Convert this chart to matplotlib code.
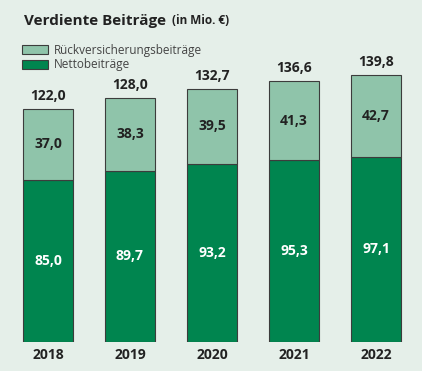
import matplotlib
matplotlib.use('Agg')
import matplotlib.pyplot as plt
from matplotlib.patches import Patch

# Daten
years = ['2018', '2019', '2020', '2021', '2022']
netto = [85.0, 89.7, 93.2, 95.3, 97.1]
rueck = [37.0, 38.3, 39.5, 41.3, 42.7]
totals = [122.0, 128.0, 132.7, 136.6, 139.8]

bg = '#e5efe9'
dark = '#00854f'
light = '#8fc4aa'
edge = '#3c3c3c'
txt = '#222222'

plt.rcParams['font.family'] = ['Open Sans', 'DejaVu Sans']

def fmt(v):
    return f'{v:.1f}'.replace('.', ',')

fig = plt.figure(figsize=(4.22, 3.71), dpi=100, facecolor=bg)
ax = fig.add_axes([7 / 422, 29 / 371, 410 / 422, 322 / 371])
ax.set_facecolor(bg)

x = list(range(len(years)))
w = 0.61
ax.bar(x, netto, width=w, color=dark, edgecolor=edge, linewidth=0.8)
ax.bar(x, rueck, width=w, bottom=netto, color=light, edgecolor=edge, linewidth=0.8)

for i in x:
    ax.text(i, netto[i] / 2, fmt(netto[i]), ha='center', va='center',
            color='white', fontsize=10, fontweight='bold')
    ax.text(i, netto[i] + rueck[i] / 2, fmt(rueck[i]), ha='center', va='center',
            color=txt, fontsize=10, fontweight='bold')
    ax.text(i, totals[i] + 3, fmt(totals[i]), ha='center', va='bottom',
            color=txt, fontsize=10, fontweight='bold')

ax.set_xlim(-0.5, 4.5)
ax.set_ylim(0, 322 / 1.91)
ax.set_xticks(x)
ax.set_xticklabels(years, fontsize=10, fontweight='bold', color=txt)
ax.tick_params(axis='x', length=0, pad=4)
ax.set_yticks([])
for s in ax.spines.values():
    s.set_visible(False)

# Titel
title = fig.text(24 / 422, 1 - 21 / 371, 'Verdiente Beiträge', fontsize=11,
                 fontweight='bold', color=txt, va='center')
ax.annotate('(in Mio. €)', xy=(1, 0.5), xycoords=title, xytext=(4, 0),
            textcoords='offset points', fontsize=8.5, fontweight='bold',
            color=txt, va='center', annotation_clip=False)

# Legende
handles = [Patch(facecolor=light, edgecolor=edge, linewidth=0.8),
           Patch(facecolor=dark, edgecolor=edge, linewidth=0.8)]
fig.legend(handles, ['Rückversicherungsbeiträge', 'Nettobeiträge'],
           loc='upper left', bbox_to_anchor=(17 / 422, 1 - 39 / 371),
           frameon=False, fontsize=8.5, labelcolor='#444444',
           handlelength=2.2, handleheight=0.75, handletextpad=0.5,
           labelspacing=0.15, borderaxespad=0)

fig.savefig('out.png', dpi=100, facecolor=bg)
